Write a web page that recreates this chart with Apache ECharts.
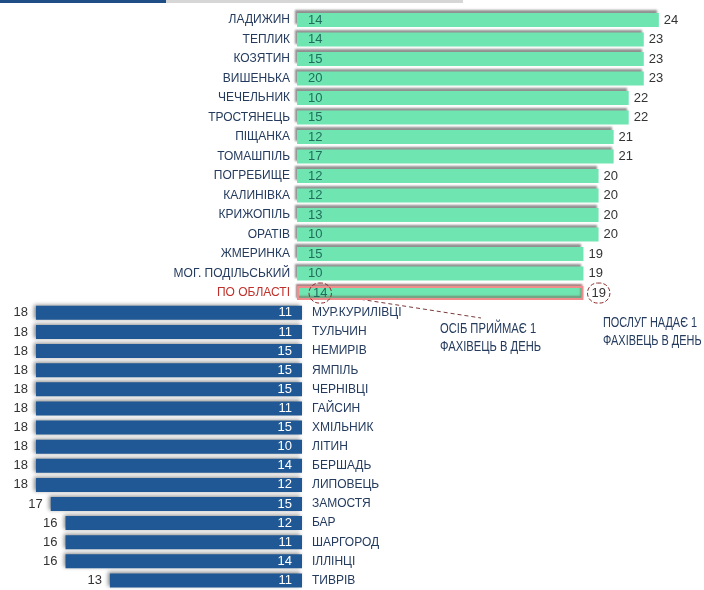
<!DOCTYPE html>
<html>
<head>
<meta charset="utf-8">
<script src="https://cdn.jsdelivr.net/npm/echarts@6/dist/echarts.min.js"></script>
<style>
html,body{margin:0;padding:0;background:#fff;}
#chart{width:704px;height:590px;}
</style>
</head>
<body>
<div id="chart"></div>
<script>
// ---- data ----
var topCats = ['ЛАДИЖИН','ТЕПЛИК','КОЗЯТИН','ВИШЕНЬКА','ЧЕЧЕЛЬНИК','ТРОСТЯНЕЦЬ','ПІЩАНКА','ТОМАШПІЛЬ','ПОГРЕБИЩЕ','КАЛИНІВКА','КРИЖОПІЛЬ','ОРАТІВ','ЖМЕРИНКА','МОГ. ПОДІЛЬСЬКИЙ','ПО ОБЛАСТІ'];
var topServices = [24,23,23,23,22,22,21,21,20,20,20,20,19,19,19];
var topPersons  = [14,14,15,20,10,15,12,17,12,12,13,10,15,10,14];

var bottomCats = ['МУР.КУРИЛІВЦІ','ТУЛЬЧИН','НЕМИРІВ','ЯМПІЛЬ','ЧЕРНІВЦІ','ГАЙСИН','ХМІЛЬНИК','ЛІТИН','БЕРШАДЬ','ЛИПОВЕЦЬ','ЗАМОСТЯ','БАР','ШАРГОРОД','ІЛЛІНЦІ','ТИВРІВ'];
var bottomServices = [18,18,18,18,18,18,18,18,18,18,17,16,16,16,13];
var bottomPersons  = [11,11,15,15,15,11,15,10,14,12,15,12,11,14,11];

var noteLeft = ['ОСІБ ПРИЙМАЄ 1', 'ФАХІВЕЦЬ В ДЕНЬ'];
var noteRight = ['ПОСЛУГ НАДАЄ 1', 'ФАХІВЕЦЬ В ДЕНЬ'];

// ---- styling ----
var FONT = '"Liberation Sans",Arial,sans-serif';
var NAVY = '#243b5e';
var GREEN = '#6fe6b1';
var BLUE = '#1f5894';
var RED = '#c0302a';
var totalIdx = topCats.length - 1;

var chart = echarts.init(document.getElementById('chart'), null, {renderer:'canvas'});

var circleLabel = {
  padding: [4, 4, 3, 4],
  borderType: 'dashed', borderColor: '#8b2a2a', borderWidth: 1, borderRadius: 12
};

var topMain = topServices.map(function(v, i){
  if (i === totalIdx) {
    return {
      value: v,
      itemStyle: {color: GREEN, borderColor: '#ef8c8c', borderWidth: 2,
        shadowColor: 'rgba(120,60,60,0.55)', shadowBlur: 2, shadowOffsetX: -1, shadowOffsetY: -2},
      label: Object.assign({show: true, position: 'right', distance: 4, color: '#333'}, circleLabel)
    };
  }
  return v;
});
var topInner = topPersons.map(function(v, i){
  if (i === totalIdx) {
    return {value: v, label: Object.assign({show: true, position: 'insideLeft', distance: 12, color: '#1f6e5c'}, circleLabel)};
  }
  return v;
});

var lbl = {fontSize: 13, fontFamily: FONT};
var catLbl = {fontSize: 12, fontFamily: FONT};

var option = {
  animation: false,
  backgroundColor: '#fff',
  textStyle: {fontFamily: FONT},
  grid: [
    {left: 297, right: 15, top: 10.3, height: 292.5},
    {left: 6.4, right: 402, top: 303.3, height: 290.4}
  ],
  xAxis: [
    {gridIndex: 0, type: 'value', min: 0, max: 26, show: false},
    {gridIndex: 1, type: 'value', min: 0, max: 20, inverse: true, show: false}
  ],
  yAxis: [
    {gridIndex: 0, type: 'category', data: topCats, inverse: true,
      axisLine: {show: false}, axisTick: {show: false}, splitLine: {show: false},
      axisLabel: Object.assign({margin: 7,
        color: function(val, idx){ return val === 'ПО ОБЛАСТІ' ? RED : NAVY; }}, catLbl)},
    {gridIndex: 1, type: 'category', data: bottomCats, inverse: true, position: 'right',
      axisLine: {show: false}, axisTick: {show: false}, splitLine: {show: false},
      axisLabel: Object.assign({margin: 10, color: NAVY}, catLbl)}
  ],
  series: [
    {
      name: 'послуг', type: 'bar', xAxisIndex: 0, yAxisIndex: 0,
      data: topMain, barWidth: 14, barGap: '-100%', z: 2,
      itemStyle: {color: GREEN, shadowColor: 'rgba(70,70,70,0.6)', shadowBlur: 2, shadowOffsetX: -2, shadowOffsetY: -3},
      label: Object.assign({show: true, position: 'right', distance: 5, color: '#333'}, lbl)
    },
    {
      name: 'осіб', type: 'bar', xAxisIndex: 0, yAxisIndex: 0,
      data: topInner, barWidth: 14, z: 3,
      itemStyle: {color: 'rgba(0,0,0,0)'},
      label: Object.assign({show: true, position: 'insideLeft', distance: 11, color: '#1f6e5c'}, lbl)
    },
    {
      name: 'послуг2', type: 'bar', xAxisIndex: 1, yAxisIndex: 1,
      data: bottomServices, barWidth: 14, barGap: '-100%', z: 2,
      itemStyle: {color: BLUE, shadowColor: 'rgba(0,0,0,0.45)', shadowBlur: 4, shadowOffsetX: -2, shadowOffsetY: -1},
      label: Object.assign({show: true, position: 'left', distance: 8, color: '#333'}, lbl)
    },
    {
      name: 'осіб2', type: 'bar', xAxisIndex: 1, yAxisIndex: 1,
      data: bottomPersons, barWidth: 14, z: 3,
      itemStyle: {color: 'rgba(0,0,0,0)'},
      label: Object.assign({show: true, position: 'insideRight', distance: 10, color: '#fff'}, lbl)
    }
  ],
  graphic: [
    {type: 'rect', shape: {x: 0, y: 0, width: 166, height: 3}, style: {fill: '#1f4e87'}, silent: true},
    {type: 'rect', shape: {x: 166, y: 0, width: 297, height: 3}, style: {fill: '#d6d6d6'}, silent: true},
    {type: 'line', shape: {x1: 333, y1: 295, x2: 481, y2: 318}, style: {stroke: '#7a3a3a', lineWidth: 1, lineDash: [4, 3]}, silent: true},
    {type: 'text', x: 440, y: 320, scaleX: 0.8, style: {text: noteLeft.join('\n'), font: '14px ' + FONT, fill: NAVY, lineHeight: 18}, silent: true},
    {type: 'text', x: 603, y: 314, scaleX: 0.78, style: {text: noteRight.join('\n'), font: '14px ' + FONT, fill: NAVY, lineHeight: 18}, silent: true}
  ]
};
chart.setOption(option);
</script>
</body>
</html>
